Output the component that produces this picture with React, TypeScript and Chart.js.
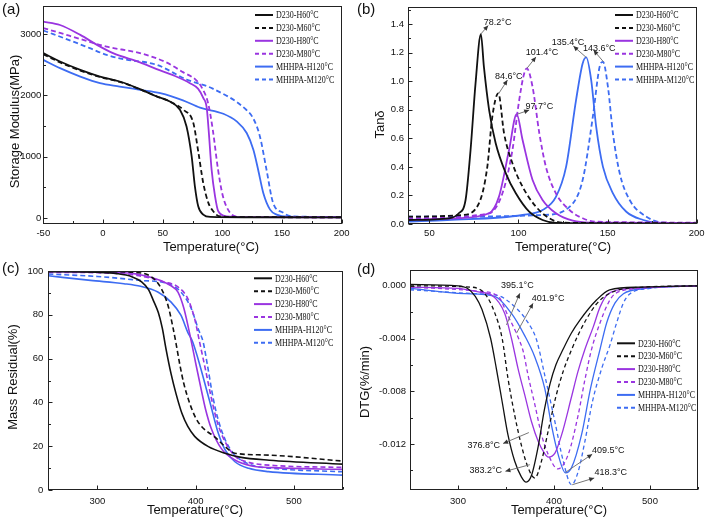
import React, { useEffect, useRef } from 'react';
import { Chart, registerables } from 'chart.js';
Chart.register(...registerables);

type P = [number, number];

// ---------- series labels / styles ----------
const SERIES_LABELS = ['D230-H60°C', 'D230-M60°C', 'D230-H80°C', 'D230-M80°C', 'MHHPA-H120°C', 'MHHPA-M120°C'];
const COLORS = ['#111111', '#111111', '#9a35e0', '#9a35e0', '#3d6cf2', '#3d6cf2'];
const DASHED = [false, true, false, true, false, true];

// ---------- (a) storage modulus (MPa) vs temperature ----------
const modH60: P[] = [[-50,2690],[-36,2553],[-19,2417],[-2.5,2308],[14,2227],[31,2103],[45,1982],[56,1900],[64.5,1765],[70,1493],[74.3,1004],[77,515],[79.8,189],[84,54],[90,15],[120,10],[200,8]];
const modM60: P[] = [[-50,2670],[-36,2540],[-19,2405],[-2.5,2300],[14,2220],[31,2100],[45,1985],[56,1900],[67.3,1765],[75.7,1548],[80,1060],[84,570],[88.3,245],[92.4,108],[97,30],[120,12],[200,10]];
const modH80: P[] = [[-50,3205],[-36,3150],[-19,2988],[-5,2825],[8.4,2690],[31,2540],[45,2430],[58.7,2330],[72.9,2200],[79.6,2110],[84,1960],[86.9,1800],[88.5,1440],[91,787],[93.9,352],[96.6,108],[103.6,26],[120,12],[200,10]];
const modM80: P[] = [[-50,3100],[-36,3020],[-19,2920],[3,2797],[31,2690],[53,2540],[67,2380],[78,2250],[83,2120],[88,1878],[92,1439],[96.4,787],[100.5,352],[106.4,86],[112,20],[130,12],[200,10]];
const modH120: P[] = [[-50,2580],[-36,2445],[-19,2308],[-2.5,2200],[14,2145],[31,2091],[48,2037],[67,1920],[81.3,1800],[100.8,1700],[112,1575],[120.4,1386],[126,1113],[130,787],[134.3,407],[140,135],[145.5,54],[155,18],[200,12]];
const modM120: P[] = [[-50,3060],[-25,2879],[-11,2771],[3,2662],[17,2592],[45,2499],[70,2260],[92,2110],[120,1766],[126,1620],[131.5,1330],[137,787],[142.5,246],[150.8,86],[158,25],[200,15]];

// ---------- (b) tan delta ----------
const tanH60: P[] = [[38,0.028],[61,0.04],[66.5,0.075],[70.3,0.168],[73.1,0.518],[75.9,0.985],[78.9,1.33],[80.6,1.10],[83.5,0.80],[87.2,0.565],[92.9,0.355],[98.5,0.215],[106,0.086],[113.5,0.028],[121,0.008],[200,0.003]];
const tanM60: P[] = [[38,0.051],[68.4,0.063],[77.8,0.145],[82.5,0.40],[85.3,0.75],[88.7,0.915],[91.9,0.635],[96.6,0.425],[102.3,0.261],[109.8,0.121],[117.3,0.04],[124.8,0.009],[200,0.005]];
const tanH80: P[] = [[38,0.028],[64.7,0.04],[83.5,0.075],[89,0.19],[94.7,0.518],[99,0.77],[102.3,0.588],[107.9,0.308],[113.5,0.168],[121,0.075],[130.5,0.023],[140,0.01],[200,0.008]];
const tanM80: P[] = [[38,0.04],[83.5,0.075],[91,0.215],[96.6,0.518],[100.4,0.868],[103.2,1.055],[104.7,1.09],[107.9,0.96],[111.7,0.635],[115.4,0.40],[121,0.215],[128.6,0.098],[136,0.04],[143.6,0.016],[200,0.01]];
const tanH120: P[] = [[38,0.016],[60,0.028],[102.3,0.063],[113.5,0.098],[121,0.19],[126.7,0.40],[132.3,0.868],[136,1.125],[138,1.167],[140.8,1.008],[143.6,0.68],[147.4,0.40],[153,0.215],[160.5,0.086],[170,0.028],[177.4,0.009],[200,0.005]];
const tanM120: P[] = [[38,0.051],[60,0.051],[113.5,0.063],[128.6,0.12],[136,0.308],[141.7,0.75],[145.5,1.10],[147.4,1.136],[150.2,0.96],[153,0.635],[156.8,0.355],[162.4,0.168],[171.8,0.051],[181.2,0.009],[200,0.005]];

// ---------- (c) mass residual (%) ----------
const massH60: P[] = [[250,99.7],[300,99.4],[320,98.8],[335,97.4],[345,95],[352,91.5],[357,86.5],[362,81],[366,74],[370,64],[375,53],[380,44],[386,35],[392,29],[399,24.5],[413,19.8],[430,16.8],[445,15],[475,13.6],[550,11.8]];
const massM60: P[] = [[250,100],[300,99.8],[337,99.4],[355,97.3],[365,92],[372,84],[377,74],[380,67],[384,57],[388,48.5],[394,39.5],[400,33],[406,29],[420,24],[430,19.8],[440,16.8],[470,16],[550,13.2]];
const massH80: P[] = [[250,99.8],[300,99.5],[337,98.8],[355,97],[365,95.5],[375,93.2],[382,90.4],[388,83],[395.5,68],[400,58],[405.6,46],[410,37],[415.8,28.2],[426,19],[440,13.7],[457,11],[480,10.2],[550,9.4]];
const massM80: P[] = [[250,99.4],[300,99.2],[340,98],[368,95],[382,92.7],[392,87.4],[399,78.2],[404,67.6],[410,55],[416,42],[422,31],[430,22],[440,15.5],[455,12.5],[480,11.2],[550,10.3]];
const massH120: P[] = [[250,97.8],[293,95.7],[327,94.2],[344,93],[361.5,90.4],[375,85.8],[385,79.8],[392,72],[397,67.6],[414,41],[423,26],[430,18.3],[440,12.9],[454,9.9],[474,8.4],[550,6.8]];
const massM120: P[] = [[250,98.6],[300,97.5],[344,95.7],[371.7,94.2],[385,90.4],[395.6,82.8],[402.5,73.7],[407.6,67.6],[412,57],[417.8,42],[423,32],[430,23],[437,17.5],[445,14],[460,11],[480,9.8],[550,8.3]];

// ---------- (d) DTG (%/min) ----------
const dtgH60: P[] = [[250,0.0001],[300,0],[310,-0.0002],[318,-0.0008],[325,-0.0018],[334,-0.004],[340,-0.0063],[346,-0.0088],[352,-0.0113],[359,-0.0133],[366,-0.0145],[371,-0.0149],[376.5,-0.0144],[383.5,-0.0122],[390,-0.0094],[396,-0.0074],[402,-0.006],[409.6,-0.0048],[418,-0.0036],[427,-0.0026],[444,-0.0011],[458,-0.0003],[490,-0.0001],[550,0]];
const dtgM60: P[] = [[250,0],[314,-0.0001],[328,-0.0006],[338,-0.002],[346,-0.004],[352,-0.007],[359,-0.0098],[366,-0.0121],[373,-0.0138],[380,-0.0146],[387,-0.0133],[394,-0.011],[402,-0.0084],[410,-0.0064],[418,-0.0049],[426,-0.0036],[434,-0.0025],[444,-0.0014],[455,-0.0007],[475,-0.0002],[550,0]];
const dtgH80: P[] = [[250,-0.0001],[300,-0.0002],[324,-0.0005],[335,-0.0007],[348.7,-0.0021],[355.7,-0.004],[362.6,-0.0063],[369.6,-0.0083],[376.5,-0.0103],[383.5,-0.0118],[390,-0.0127],[394,-0.013],[401,-0.0127],[408,-0.0113],[418,-0.0085],[425,-0.0065],[432.3,-0.0048],[441,-0.0031],[448,-0.0016],[456.6,-0.0006],[480,-0.0002],[550,0]];
const dtgM80: P[] = [[250,-0.0001],[320,-0.0004],[341.8,-0.0008],[352.2,-0.0023],[362.6,-0.0039],[368,-0.005],[373,-0.0068],[380,-0.009],[387,-0.0113],[394,-0.0128],[404,-0.0139],[414.8,-0.0128],[425.2,-0.0098],[432,-0.0072],[439.2,-0.0048],[448,-0.0028],[456.6,-0.0013],[463.6,-0.0006],[490,-0.0002],[550,0]];
const dtgH120: P[] = [[250,-0.0002],[307,-0.0006],[338.3,-0.0008],[355.7,-0.0021],[369.6,-0.0038],[380,-0.0054],[390.4,-0.0078],[397.4,-0.0106],[404.3,-0.0128],[412,-0.0142],[418.3,-0.0138],[428.7,-0.0113],[438,-0.0078],[448,-0.0048],[454.9,-0.0028],[463.6,-0.0013],[472.3,-0.0006],[495,-0.0002],[550,0]];
const dtgM120: P[] = [[250,-0.0003],[320,-0.0006],[340,-0.0007],[359.2,-0.0016],[373,-0.0028],[381.8,-0.0041],[390.4,-0.0068],[400.9,-0.0103],[409.6,-0.0133],[418.3,-0.0151],[425.2,-0.0141],[432.2,-0.0118],[440,-0.0088],[450,-0.0062],[458.3,-0.0045],[465.3,-0.0028],[472.3,-0.0013],[479.2,-0.0006],[500,-0.0002],[550,0]];

// ---------- tick values ----------
const ticksA_X = [-50, 0, 50, 100, 150, 200];
const ticksA_Y = [0, 1000, 2000, 3000];
const ticksB_X = [50, 100, 150, 200];
const ticksB_Y = [0, 0.2, 0.4, 0.6, 0.8, 1.0, 1.2, 1.4];
const ticksC_X = [300, 400, 500];
const ticksC_Y = [0, 20, 40, 60, 80, 100];
const ticksD_X = [300, 400, 500];
const ticksD_Y = [-0.012, -0.008, -0.004, 0];

// ---------- annotations (text + arrow, in data units) ----------
const annB = [
  { t: '78.2°C', tx: 88.3, ty: 1.414, x1: 78.8, y1: 1.33, x2: 83.0, y2: 1.39 },
  { t: '84.6°C', tx: 94.5, ty: 1.036, x1: 88.7, y1: 0.91, x2: 93.8, y2: 1.008 },
  { t: '101.4°C', tx: 113.2, ty: 1.2, x1: 104.7, y1: 1.09, x2: 109.8, y2: 1.17 },
  { t: '97.7°C', tx: 111.7, ty: 0.82, x1: 99.5, y1: 0.77, x2: 106, y2: 0.798 },
  { t: '135.4°C', tx: 127.8, ty: 1.27, x1: 138, y1: 1.167, x2: 130.8, y2: 1.246 },
  { t: '143.6°C', tx: 145.3, ty: 1.23, x1: 147.7, y1: 1.136, x2: 142.1, y2: 1.218 },
];
const annD = [
  { t: '395.1°C', tx: 361.8, ty: 0.0, x1: 350.5, y1: -0.00297, x2: 364.4, y2: -0.00057 },
  { t: '401.9°C', tx: 393.9, ty: -0.00095, x1: 360.9, y1: -0.0036, x2: 378.2, y2: -0.00133 },
  { t: '376.8°C', tx: 326.8, ty: -0.01215, x1: 373.8, y1: -0.01114, x2: 347, y2: -0.01197 },
  { t: '383.2°C', tx: 328.9, ty: -0.01404, x1: 374.8, y1: -0.01358, x2: 349.4, y2: -0.01408 },
  { t: '409.5°C', tx: 456.5, ty: -0.01253, x1: 412, y1: -0.01416, x2: 439.8, y2: -0.01278 },
  { t: '418.3°C', tx: 459.1, ty: -0.01416, x1: 419, y1: -0.0151, x2: 441.9, y2: -0.01459 },
];

const SANS = "'Liberation Sans', Arial, sans-serif";
const SERIF = "'Liberation Serif', 'Times New Roman', serif";

const PANELS: any[] = [
  {
    left: 0, top: 0, w: 354, h: 260, padTop: 6, padRight: 12.3, yAxisW: 43.3, xAxisH: 36,
    xMin: -50, xMax: 200, yMin: -100, yMax: 3460, xTicks: ticksA_X, yTicks: ticksA_Y, xDec: 0, yDec: 0,
    xTickPad: 4, yTickPad: 2, series: [modH60, modM60, modH80, modM80, modH120, modM120],
    lineWidth: 1.8, dash: [5, 3], label: '(a)', labelPos: [2, 10],
    xTitle: 'Temperature(°C)', xTitlePos: [211, 247], yTitle: 'Storage Modulus(MPa)', yTitlePos: [15, 121.5],
    legendPos: [255, 15], ann: [],
  },
  {
    left: 354, top: 0, w: 355, h: 260, padTop: 7, padRight: 12.3, yAxisW: 54, xAxisH: 36,
    xMin: 38, xMax: 200, yMin: 0, yMax: 1.52, xTicks: ticksB_X, yTicks: ticksB_Y, xDec: 0, yDec: 1,
    xTickPad: 4, yTickPad: 4, series: [tanH60, tanM60, tanH80, tanM80, tanH120, tanM120],
    lineWidth: 1.8, dash: [5, 3], label: '(b)', labelPos: [3, 10],
    xTitle: 'Temperature(°C)', xTitlePos: [209, 247], yTitle: 'Tanδ', yTitlePos: [26, 124.5],
    legendPos: [261, 15], ann: annB,
  },
  {
    left: 0, top: 260, w: 354, h: 261, padTop: 11, padRight: 11, yAxisW: 48.3, xAxisH: 31,
    xMin: 250, xMax: 550, yMin: 0, yMax: 100, xTicks: ticksC_X, yTicks: ticksC_Y, xDec: 0, yDec: 0,
    xTickPad: 6, yTickPad: 5, series: [massH60, massM60, massH80, massM80, massH120, massM120],
    lineWidth: 1.6, dash: [5, 3], label: '(c)', labelPos: [2, 8.5],
    xTitle: 'Temperature(°C)', xTitlePos: [195, 250], yTitle: 'Mass Residual(%)', yTitlePos: [13.3, 117],
    legendPos: [254, 18.3], ann: [],
  },
  {
    left: 354, top: 260, w: 355, h: 261, padTop: 10, padRight: 11, yAxisW: 56, xAxisH: 31,
    xMin: 250, xMax: 550, yMin: -0.0155, yMax: 0.0012, xTicks: ticksD_X, yTicks: ticksD_Y, xDec: 0, yDec: 3,
    xTickPad: 6, yTickPad: 4, series: [dtgH60, dtgM60, dtgH80, dtgM80, dtgH120, dtgM120],
    lineWidth: 1.3, dash: [4, 3], label: '(d)', labelPos: [3, 10],
    xTitle: 'Temperature(°C)', xTitlePos: [205, 250], yTitle: 'DTG(%/min)', yTitlePos: [11, 122],
    legendPos: [263, 83.3], ann: annD,
  },
];

function minorValues(scale: any): number[] {
  const t = scale.ticks.map((k: any) => k.value);
  if (t.length < 2) return [];
  const st = t[1] - t[0];
  const out: number[] = [];
  for (let k = -2; k < t.length + 2; k++) {
    const v = t[0] + (k + 0.5) * st;
    if (v >= scale.min - 1e-12 && v <= scale.max + 1e-12) out.push(v);
  }
  return out;
}

function drawArrow(ctx: CanvasRenderingContext2D, x1: number, y1: number, x2: number, y2: number) {
  ctx.save();
  ctx.strokeStyle = '#777';
  ctx.lineWidth = 1;
  ctx.setLineDash([]);
  ctx.beginPath();
  ctx.moveTo(x1, y1);
  ctx.lineTo(x2, y2);
  ctx.stroke();
  const a = Math.atan2(y2 - y1, x2 - x1);
  const L = 5, W = 2.3;
  ctx.fillStyle = '#333';
  ctx.beginPath();
  ctx.moveTo(x2, y2);
  ctx.lineTo(x2 - L * Math.cos(a) + W * Math.sin(a), y2 - L * Math.sin(a) - W * Math.cos(a));
  ctx.lineTo(x2 - L * Math.cos(a) - W * Math.sin(a), y2 - L * Math.sin(a) + W * Math.cos(a));
  ctx.closePath();
  ctx.fill();
  ctx.restore();
}

const decorPlugin = {
  id: 'decor',
  afterDraw(chart: any, _args: any, opts: any) {
    const ctx: CanvasRenderingContext2D = chart.ctx;
    const { left, right, top, bottom } = chart.chartArea;
    const xs = chart.scales.x;
    const ys = chart.scales.y;
    ctx.save();
    // frame
    ctx.strokeStyle = '#222';
    ctx.lineWidth = 1;
    ctx.setLineDash([]);
    const L = Math.round(left) + 0.5, R = Math.round(right) - 0.5, T = Math.round(top) + 0.5, B = Math.round(bottom) - 0.5;
    ctx.strokeRect(L, T, R - L, B - T);
    // inward ticks
    ctx.beginPath();
    xs.ticks.forEach((t: any) => {
      const px = Math.round(xs.getPixelForValue(t.value)) + 0.5;
      ctx.moveTo(px, B); ctx.lineTo(px, B - 4);
    });
    minorValues(xs).forEach((v) => {
      const px = Math.round(xs.getPixelForValue(v)) + 0.5;
      ctx.moveTo(px, B); ctx.lineTo(px, B - 2.5);
    });
    ys.ticks.forEach((t: any) => {
      const py = Math.round(ys.getPixelForValue(t.value)) + 0.5;
      ctx.moveTo(L, py); ctx.lineTo(L + 4, py);
    });
    minorValues(ys).forEach((v) => {
      const py = Math.round(ys.getPixelForValue(v)) + 0.5;
      ctx.moveTo(L, py); ctx.lineTo(L + 2.5, py);
    });
    ctx.stroke();

    // titles
    ctx.fillStyle = '#111';
    ctx.font = `13px ${SANS}`;
    ctx.textAlign = 'center';
    ctx.textBaseline = 'middle';
    ctx.fillText(opts.xTitle, opts.xTitlePos[0], opts.xTitlePos[1]);
    ctx.save();
    ctx.translate(opts.yTitlePos[0], opts.yTitlePos[1]);
    ctx.rotate(-Math.PI / 2);
    ctx.fillText(opts.yTitle, 0, 0);
    ctx.restore();

    // panel label
    ctx.font = `15px ${SANS}`;
    ctx.textAlign = 'left';
    ctx.fillText(opts.label, opts.labelPos[0], opts.labelPos[1]);

    // legend
    const [lx, ly] = opts.legendPos;
    chart.data.datasets.forEach((ds: any, i: number) => {
      const y = ly + i * 12.9;
      ctx.save();
      ctx.strokeStyle = ds.borderColor;
      ctx.lineWidth = 2;
      ctx.setLineDash(ds.borderDash && ds.borderDash.length ? [4, 3] : []);
      ctx.beginPath();
      ctx.moveTo(lx, y);
      ctx.lineTo(lx + 18, y);
      ctx.stroke();
      ctx.restore();
      ctx.save();
      ctx.fillStyle = '#111';
      ctx.font = `10.5px ${SERIF}`;
      ctx.textAlign = 'left';
      ctx.textBaseline = 'middle';
      ctx.translate(lx + 21, y);
      ctx.scale(0.76, 1);
      ctx.fillText(ds.label, 0, 0.5);
      ctx.restore();
    });

    // annotations
    (opts.ann || []).forEach((a: any) => {
      const x1 = xs.getPixelForValue(a.x1), y1 = ys.getPixelForValue(a.y1);
      const x2 = xs.getPixelForValue(a.x2), y2 = ys.getPixelForValue(a.y2);
      drawArrow(ctx, x1, y1, x2, y2);
      ctx.fillStyle = '#111';
      ctx.font = `9px ${SANS}`;
      ctx.textAlign = 'center';
      ctx.textBaseline = 'middle';
      ctx.fillText(a.t, xs.getPixelForValue(a.tx), ys.getPixelForValue(a.ty));
    });
    ctx.restore();
  },
};

function Panel({ cfg }: { cfg: any }) {
  const ref = useRef<HTMLCanvasElement | null>(null);
  useEffect(() => {
    if (!ref.current) return;
    const zeroPad = (s: any) => {
      s.paddingLeft = 0; s.paddingRight = 0; s.paddingTop = 0; s.paddingBottom = 0;
    };
    const chart = new Chart(ref.current, {
      type: 'line',
      data: {
        datasets: cfg.series.map((s: P[], i: number) => ({
          label: SERIES_LABELS[i],
          data: s.map(([x, y]) => ({ x, y })),
          borderColor: COLORS[i],
          backgroundColor: COLORS[i],
          borderWidth: cfg.lineWidth,
          borderDash: DASHED[i] ? cfg.dash : [],
          pointRadius: 0,
          pointHoverRadius: 0,
          fill: false,
          cubicInterpolationMode: 'monotone',
        })),
      },
      options: {
        responsive: false,
        animation: false,
        events: [],
        layout: { padding: { left: 0, top: cfg.padTop, right: cfg.padRight, bottom: 0 } },
        plugins: {
          legend: { display: false },
          tooltip: { enabled: false },
          decor: {
            xTitle: cfg.xTitle, xTitlePos: cfg.xTitlePos, yTitle: cfg.yTitle, yTitlePos: cfg.yTitlePos,
            label: cfg.label, labelPos: cfg.labelPos, legendPos: cfg.legendPos, ann: cfg.ann,
          },
        } as any,
        scales: {
          x: {
            type: 'linear',
            min: cfg.xMin,
            max: cfg.xMax,
            grid: { display: false, drawTicks: false },
            border: { display: false },
            ticks: {
              font: { family: SANS, size: 9.5 },
              color: '#111',
              padding: cfg.xTickPad,
              maxRotation: 0,
              autoSkip: false,
              callback: (v: any) => Number(v).toFixed(cfg.xDec),
            },
            afterBuildTicks: (s: any) => { s.ticks = cfg.xTicks.map((v: number) => ({ value: v })); },
            afterFit: (s: any) => { s.height = cfg.xAxisH; zeroPad(s); },
          },
          y: {
            type: 'linear',
            min: cfg.yMin,
            max: cfg.yMax,
            grid: { display: false, drawTicks: false },
            border: { display: false },
            ticks: {
              font: { family: SANS, size: 9.5 },
              color: '#111',
              padding: cfg.yTickPad,
              autoSkip: false,
              callback: (v: any) => Number(v).toFixed(cfg.yDec),
            },
            afterBuildTicks: (s: any) => { s.ticks = cfg.yTicks.map((v: number) => ({ value: v })); },
            afterFit: (s: any) => { s.width = cfg.yAxisW; zeroPad(s); },
          },
        },
      } as any,
      plugins: [decorPlugin as any],
    });
    return () => chart.destroy();
  }, [cfg]);
  return (
    <canvas
      ref={ref}
      width={cfg.w}
      height={cfg.h}
      style={{ position: 'absolute', left: cfg.left, top: cfg.top, width: cfg.w, height: cfg.h }}
    />
  );
}

export default function App() {
  return (
    <div style={{ position: 'absolute', left: 0, top: 0, width: 709, height: 521, background: '#fff', overflow: 'hidden' }}>
      {PANELS.map((p, i) => (
        <Panel key={i} cfg={p} />
      ))}
    </div>
  );
}
